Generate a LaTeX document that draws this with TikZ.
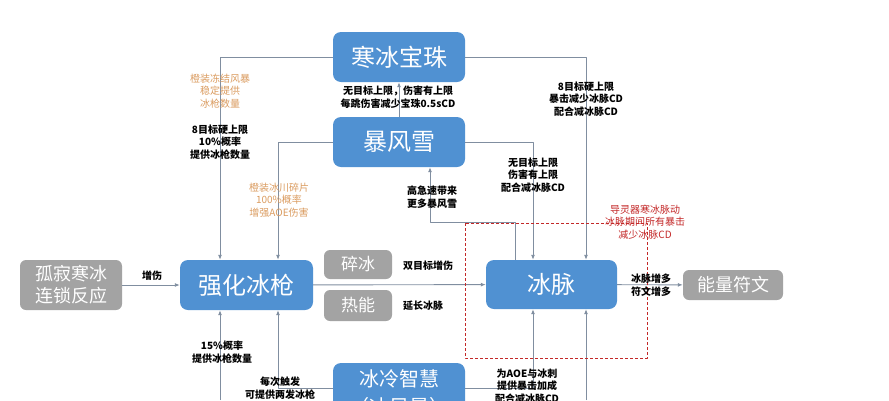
\documentclass[tikz,border=0pt]{standalone}
\usepackage{fontspec}
\setmainfont{Noto Sans CJK SC}
\usepackage{xcolor}
\usetikzlibrary{arrows.meta}
\definecolor{boxblue}{RGB}{80,145,210}
\definecolor{boxgray}{RGB}{163,163,163}
\definecolor{linegray}{RGB}{128,142,160}
\definecolor{noteorange}{RGB}{218,155,95}
\definecolor{notered}{RGB}{195,40,40}
\tikzset{
  bluebox/.style={rounded corners=8pt, fill=boxblue, text=white, minimum width=132pt, minimum height=50pt,
    font=\fontsize{24}{28}\selectfont, align=center, inner sep=0pt},
  graybox/.style={rounded corners=6pt, fill=boxgray, text=white, font=\fontsize{18}{22}\selectfont,
    align=center, inner sep=0pt},
  note/.style={font=\fontsize{10}{12.5}\selectfont\bfseries, align=center, inner sep=0pt},
  orangenote/.style={note, font=\fontsize{10}{12.5}\selectfont, text=noteorange},
  rednote/.style={note, font=\fontsize{10}{12.5}\selectfont, text=notered},
  link/.style={draw=linegray, line width=0.9pt, -{Latex[length=5pt,width=4pt]}},
}

\begin{document}
\begin{tikzpicture}[x=1pt, y=-1pt, line join=round]
  \useasboundingbox (0,0) rectangle (889,400);
  \clip (0,0) rectangle (889,400);
  % boxes
  \node[bluebox] (baozhu) at (399,57) {寒冰宝珠};
  \node[bluebox] (baofeng) at (399,142) {暴风雪};
  \node[bluebox, minimum width=133pt] (qianghua) at (246.5,285) {强化冰枪};
  \node[bluebox, minimum width=131pt, minimum height=49pt] (maimai) at (551.5,284.5) {冰脉};
  \node[bluebox, minimum height=60pt, font=\fontsize{20}{28}\selectfont] (zhihui) at (399,393) {冰冷智慧\\（冰风暴）};
  \node[graybox, minimum width=102pt, minimum height=50pt] (guji) at (71,285) {孤寂寒冰\\连锁反应};
  \node[graybox, minimum width=68pt, minimum height=29pt, font=\fontsize{17}{20}\selectfont] (suibing) at (358,264.5) {碎冰};
  \node[graybox, minimum width=68pt, minimum height=31pt, font=\fontsize{17}{20}\selectfont] (reneng) at (358,305.5) {热能};
  \node[graybox, minimum width=100pt, minimum height=30pt] (fuwen) at (733,285) {能量符文};
  \coordinate (kink) at (430,222);
  \coordinate (leftend) at (220,400);
  \coordinate (rightend) at (586,400);
  % connectors
  \draw[link] (baozhu.west) -| ([xshift=-26.5pt]qianghua.north);
  \draw[link] (baofeng.west) -| ([xshift=31.5pt]qianghua.north);
  \draw[link] (baozhu.east) -| ([xshift=34.5pt]maimai.north);
  \draw[link] (baofeng.east) -| ([xshift=-18.5pt]maimai.north);
  \draw[link] (baofeng.north) -- (baozhu.south);
  \draw[link] ([xshift=-36.5pt]maimai.north) |- (kink) -- ([xshift=31pt]baofeng.south);
  \draw[link] (guji) -- (qianghua);
  \draw[link] (qianghua) -- (maimai);
  \draw[link] (maimai) -- (fuwen);
  \draw[link] ([yshift=5pt]zhihui.west) -| ([xshift=31.5pt]qianghua.south);
  \draw[link] (leftend) -- ([xshift=-26.5pt]qianghua.south);
  \draw[link] ([yshift=5pt]zhihui.east) -| ([xshift=-18.5pt]maimai.south);
  \draw[link] (rightend) -- ([xshift=34.5pt]maimai.south);
  \draw[notered, densely dashed, line width=0.6pt] (465,223) rectangle (647,358);
  % labels
  \node[note] (zengshang) at (152,276) {增伤};
  \node[note] (baozhunote) at (398,97) {无目标上限，伤害有上限\\每跳伤害减少宝珠0.5sCD};
  \node[orangenote] (dongjie) at (220,91) {橙装冻结风暴\\稳定提供\\冰枪数量};
  \node[note] (bamubiao) at (220,142) {8目标硬上限\\10\%概率\\提供冰枪数量};
  \node[orangenote] (bingchuan) at (279,200) {橙装冰川碎片\\100\%概率\\增强AOE伤害};
  \node[note] (gaojisu) at (432,197) {高急速带来\\更多暴风雪};
  \node[note] (baofengnote) at (533,175) {无目标上限\\伤害有上限\\配合减冰脉CD};
  \node[note] (baozhuright) at (586,99) {8目标硬上限\\暴击减少冰脉CD\\配合减冰脉CD};
  \node[rednote] (lingqi) at (645,222) {导灵器寒冰脉动\\冰脉期间所有暴击\\减少冰脉CD};
  \node[note, anchor=west] (shuangmubiao) at (403,266) {双目标增伤};
  \node[note, anchor=west] (yanchang) at (403,306) {延长冰脉};
  \node[note] (fuwennote) at (651,285) {冰脉增多\\符文增多};
  \node[note] (gailv) at (222,352) {15\%概率\\提供冰枪数量};
  \node[note] (chufa) at (280,388) {每次触发\\可提供两发冰枪};
  \node[note] (aoe) at (527,386) {为AOE与冰刺\\提供暴击加成\\配合减冰脉CD};
\end{tikzpicture}
\end{document}
